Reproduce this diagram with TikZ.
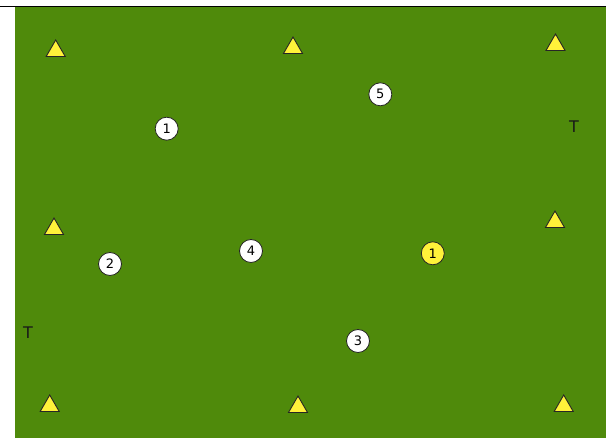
\documentclass[tikz,border=0pt]{standalone}
\usepackage{fontspec}
\setmainfont{DejaVu Sans}
\usetikzlibrary{shapes.geometric}
\definecolor{field}{HTML}{4F8A0B}
\definecolor{cone}{HTML}{FFF23A}
\tikzset{
  conemark/.style={regular polygon, regular polygon sides=3, minimum size=22pt, inner sep=0pt, draw=black!85, line width=0.9pt, fill=cone},
  player/.style={circle, minimum size=23pt, inner sep=0pt, draw=black!85, line width=0.8pt, fill=white, font=\fontsize{13}{13}\selectfont},
  keeper/.style={player, fill=cone},
  goal/.style={inner sep=0pt, font=\fontsize{16}{16}\selectfont, text=black!90}
}
\begin{document}
\begin{tikzpicture}[x=1pt,y=1pt]
\useasboundingbox (0,0) rectangle (606,438);
\fill[white] (0,0) rectangle (606,438);
\fill[field] (15,0) rectangle (606,431.5);
\draw[black, line width=1.4pt] (0,431.6) -- (606,431.6);
% cones
\node[conemark] (c1) at (55.7,387) {};
\node[conemark] (c2) at (293,390) {};
\node[conemark] (c3) at (555.5,393) {};
\node[conemark] (c4) at (54,209) {};
\node[conemark] (c5) at (555,216) {};
\node[conemark] (c6) at (49.7,32) {};
\node[conemark] (c7) at (298,31) {};
\node[conemark] (c8) at (563.7,32) {};
% players
\node[player] (p1) at (166.7,309.3) {1};
\node[player] (p5) at (380.3,343.7) {5};
\node[player] (p4) at (251,187) {4};
\node[player] (p2) at (110,174) {2};
\node[player] (p3) at (358,97) {3};
\node[keeper] (k1) at (432.8,184.7) {1};
% goals
\node[goal] (t1) at (574,311) {T};
\node[goal] (t2) at (28,105) {T};
\end{tikzpicture}
\end{document}
